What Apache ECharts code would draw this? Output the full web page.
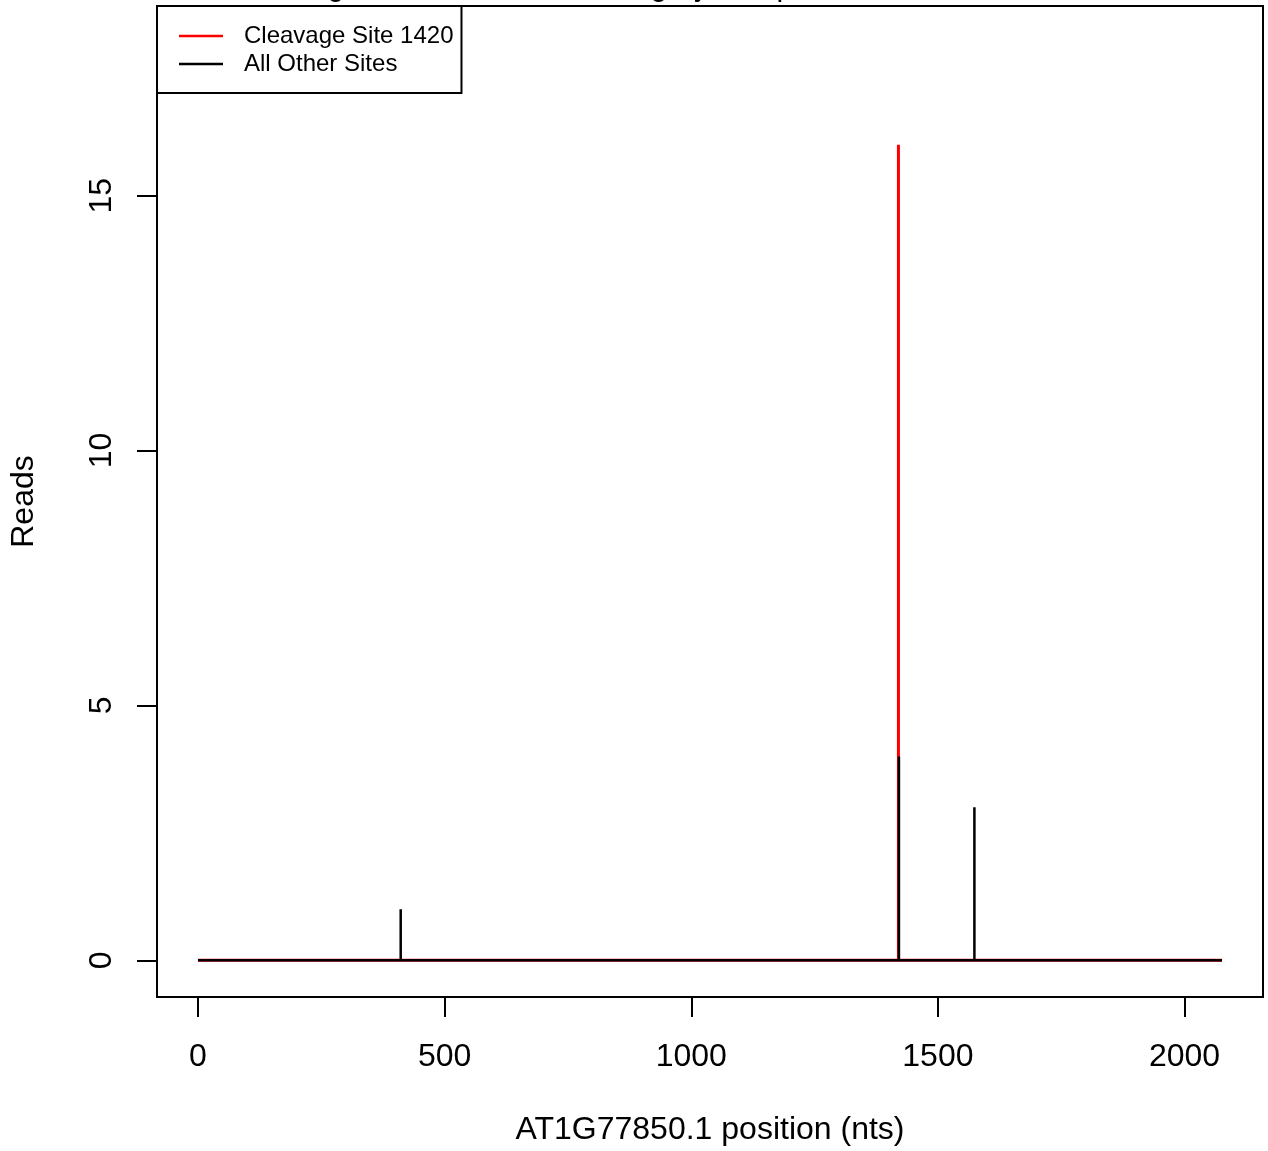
<!DOCTYPE html>
<html>
<head>
<meta charset="utf-8">
<script src="https://cdn.jsdelivr.net/npm/echarts@6/dist/echarts.min.js"></script>
<style>
html,body{margin:0;padding:0;background:#fff;}
#chart{width:1268px;height:1151px;}
</style>
</head>
<body>
<div id="chart"></div>
<script>
// ---- data ----
const transcriptLength = 2076;
const cleavageSite = [1420];
const cleavageReads = [16];
const otherSites = [411, 1421, 1574];
const otherReads = [1, 4, 3];
const yLimit = 18;
const xTicks = [0, 500, 1000, 1500, 2000];
const yTicks = [0, 5, 10, 15];
const seriesNames = ['Cleavage Site 1420', 'All Other Sites'];
const titleText = 'Target: AT1G77850.1, Category = 0, p = 0.0037';
const xLabel = 'AT1G77850.1 position (nts)';
const yLabel = 'Reads';

// build R-style type="h" polylines (vertical spikes over a zero baseline)
function spikes(xs, ys, len) {
  const pts = [[0, 0]];
  xs.map((x, i) => [x, ys[i]]).sort((a, b) => a[0] - b[0]).forEach(([x, y]) => {
    pts.push([x, 0], [x, y], [x, 0]);
  });
  pts.push([len, 0]);
  return pts;
}

const FONT = "'Liberation Sans', Arial, Helvetica, sans-serif";
const xPad = transcriptLength * 0.04;
const yPad = yLimit * 0.04;
const lineIcon = 'path://M0,0L44,0L44,2.5L0,2.5Z';

const chart = echarts.init(document.getElementById('chart'), null, {renderer: 'canvas'});
chart.setOption({
  animation: false,
  backgroundColor: '#fff',
  grid: {
    left: 157, top: 6, width: 1106, height: 991,
    show: true, borderColor: '#000', borderWidth: 2, backgroundColor: 'transparent'
  },
  graphic: [{
    type: 'text', left: 286, top: -27, z: 100,
    style: {text: titleText, font: "30px " + FONT, fill: '#000'}
  }],
  legend: {
    orient: 'vertical', left: 157, top: 6,
    padding: [18, 8, 17, 22], itemGap: 4,
    itemWidth: 44, itemHeight: 24, symbolKeepAspect: true,
    borderColor: '#000', borderWidth: 2, backgroundColor: '#fff',
    textStyle: {fontFamily: FONT, fontSize: 24, color: '#000', padding: [0, 0, 0, 16]},
    data: [
      {name: seriesNames[0], icon: lineIcon},
      {name: seriesNames[1], icon: lineIcon}
    ]
  },
  xAxis: {
    type: 'value', min: -xPad, max: transcriptLength + xPad,
    axisLine: {show: false, onZero: false},
    splitLine: {show: false},
    axisTick: {show: true, customValues: xTicks, length: 20, lineStyle: {color: '#000', width: 2}},
    axisLabel: {customValues: xTicks, margin: 44, fontFamily: FONT, fontSize: 32, color: '#000',
      formatter: v => String(v)},
    name: xLabel, nameLocation: 'middle', nameGap: 117,
    nameTextStyle: {fontFamily: FONT, fontSize: 32, color: '#000'}
  },
  yAxis: {
    type: 'value', min: -yPad, max: yLimit + yPad,
    axisLine: {show: false, onZero: false},
    splitLine: {show: false},
    axisTick: {show: true, customValues: yTicks, length: 20, lineStyle: {color: '#000', width: 2}},
    axisLabel: {customValues: yTicks, rotate: 90, margin: 39, fontFamily: FONT, fontSize: 32, color: '#000',
      formatter: v => String(v)},
    name: yLabel, nameLocation: 'middle', nameGap: 117, nameRotate: 90,
    nameTextStyle: {fontFamily: FONT, fontSize: 32, color: '#000'}
  },
  series: [
    {
      name: seriesNames[0], type: 'line', symbol: 'none', showSymbol: false,
      data: spikes(cleavageSite, cleavageReads, transcriptLength),
      lineStyle: {color: '#ff0000', width: 3}, itemStyle: {color: '#ff0000'}
    },
    {
      name: seriesNames[1], type: 'line', symbol: 'none', showSymbol: false,
      data: spikes(otherSites, otherReads, transcriptLength),
      lineStyle: {color: '#000', width: 2.5}, itemStyle: {color: '#000'}
    }
  ]
});
</script>
</body>
</html>
